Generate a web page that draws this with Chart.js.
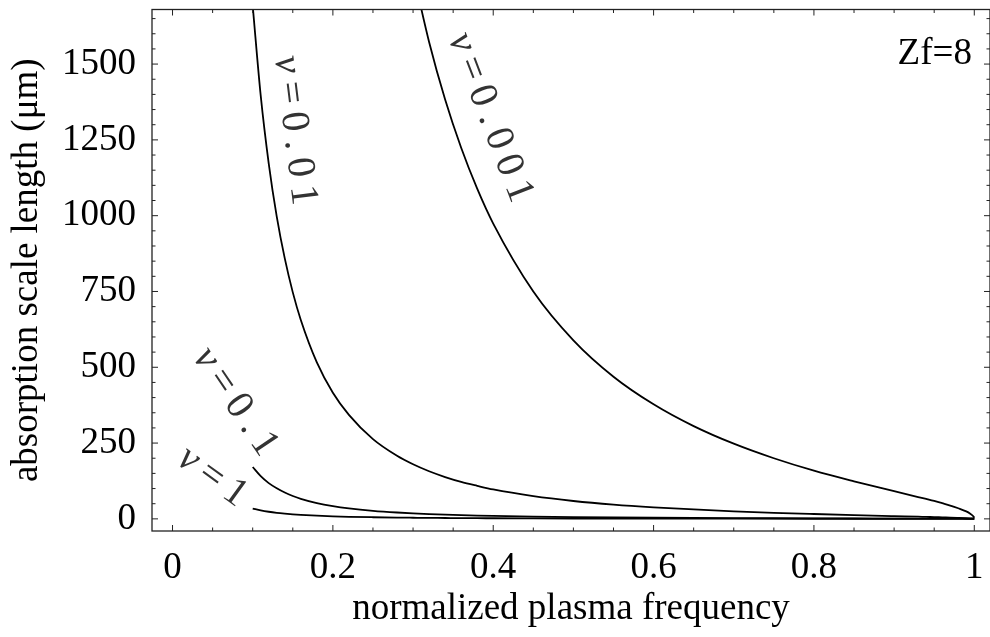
<!DOCTYPE html>
<html>
<head>
<meta charset="utf-8">
<script src="https://cdn.jsdelivr.net/npm/chart.js@4.4.1/dist/chart.umd.min.js"></script>
<style>
	html, body { margin: 0; padding: 0; background: #fff; }
	#wrap { width: 990px; height: 637px; position: relative; }
</style>
</head>
<body>
<div id="wrap"><canvas id="absorption"></canvas></div>
<script>
// normalized plasma frequency (x) and absorption scale length in µm for each collision rate
const freq = [0.1, 0.11, 0.12, 0.13, 0.14, 0.15, 0.16, 0.18, 0.2, 0.22, 0.25, 0.28, 0.3, 0.32, 0.34, 0.36, 0.38, 0.4, 0.45, 0.5,
	0.55, 0.6, 0.65, 0.7, 0.75, 0.8, 0.85, 0.9, 0.93, 0.94, 0.95, 0.96, 0.97, 0.98, 0.99, 0.995, 0.998, 0.999, 1.0];
const nu0001 = [null, null, null, null, null, null, null, null, null, null, null, null,
	1802, 1573, 1383, 1224, 1089, 974, 750, 589, 469, 378, 306, 248, 200, 159, 124, 91.5, 72, 65.6, 59, 51.6, 44, 35, 24.6, 17, 11, 7.8, 4];
const nu001 = [1692, 1396, 1172, 997, 859, 747, 656, 516, 416, 343, 263, 208, 180, 157, 138, 122, 109, 97, 75, 59,
	47, 38, 31, 25, 20, 16, 12.4, 9.1, 7.2, 6.5, 5.9, 5.1, 4.4, 3.5, 2.5, 1.9, 1.5, 1.34, 1.2];
const nu01 = [171, 141, 118, 101, 87, 75.5, 66, 52, 42, 34.6, 26.6, 21, 18.2, 15.9, 14, 12.4, 11, 9.8, 7.6, 6,
	4.75, 3.8, 3.1, 2.5, 2, 1.6, 1.3, 0.96, 0.78, 0.74, 0.7, 0.65, 0.6, 0.55, 0.48, 0.44, 0.42, 0.41, 0.4];
const nu1 = [33.9, 28, 23.5, 20, 17.3, 15, 13.2, 10.4, 8.4, 6.9, 5.4, 4.25, 3.7, 3.2, 2.85, 2.5, 2.3, 2.0, 1.6, 1.3,
	1.05, 0.86, 0.72, 0.61, 0.52, 0.45, 0.39, 0.34, 0.31, 0.305, 0.3, 0.29, 0.28, 0.27, 0.26, 0.26, 0.26, 0.26, 0.26];

const curveNames = ['ν=0.001', 'ν=0.01', 'ν=0.1', 'ν=1'];
const xTicks = [0, 0.2, 0.4, 0.6, 0.8, 1];
const yTicks = [0, 250, 500, 750, 1000, 1250, 1500];

const SERIF = "'Liberation Serif', 'Times New Roman', serif";

// where the curve labels sit (data units) and their tilt
const labelPlace = [
	{ x: 0.3438, y: 1586, angle: 69 },
	{ x: 0.1278, y: 1523, angle: 83 },
	{ x: 0.0246, y: 534, angle: 56 },
	{ x: 0.0033, y: 185, angle: 36 },
];

const toPoints = ys => freq.map((x, i) => ({ x: x, y: ys[i] }));

const curve = ys => ({
	data: toPoints(ys),
	showLine: true,
	borderColor: '#000',
	borderWidth: 1.8,
	pointRadius: 0,
	cubicInterpolationMode: 'monotone',
});

const noPad = s => {
	s.paddingTop = 0; s.paddingBottom = 0;
	s.paddingLeft = 0; s.paddingRight = 0;
};

const framePlugin = {
	id: 'frame',
	afterDraw(chart) {
		const { ctx, chartArea: a, scales: { x, y } } = chart;
		ctx.save();
		ctx.strokeStyle = '#222';
		ctx.lineWidth = 1.3;
		ctx.strokeRect(a.left, a.top, a.right - a.left, a.bottom - a.top);

		ctx.lineWidth = 1;
		ctx.beginPath();
		for (let i = 0; i <= 20; i++) {
			const px = x.getPixelForValue(i * 0.05);
			const len = i % 4 === 0 ? 6 : 3.5;
			ctx.moveTo(px, a.bottom); ctx.lineTo(px, a.bottom - len);
			ctx.moveTo(px, a.top); ctx.lineTo(px, a.top + len);
		}
		for (let i = 0; i <= 33; i++) {
			const py = y.getPixelForValue(i * 50);
			const len = i % 5 === 0 ? 6 : 3.5;
			ctx.moveTo(a.left, py); ctx.lineTo(a.left + len, py);
			ctx.moveTo(a.right, py); ctx.lineTo(a.right - len, py);
		}
		ctx.stroke();

		// curve labels
		ctx.fillStyle = '#333';
		ctx.textBaseline = 'alphabetic';
		curveNames.forEach((name, k) => {
			const p = labelPlace[k];
			ctx.save();
			ctx.translate(x.getPixelForValue(p.x), y.getPixelForValue(p.y));
			ctx.rotate(p.angle * Math.PI / 180);
			let cx = 0;
			for (const ch of name) {
				ctx.font = (ch === 'ν' ? 'italic ' : '') + '40px ' + SERIF;
				ctx.fillText(ch, cx, 0);
				cx += ctx.measureText(ch).width + 8;
			}
			ctx.restore();
		});

		// Zf label
		ctx.fillStyle = '#000';
		ctx.font = '37px ' + SERIF;
		ctx.textAlign = 'right';
		ctx.fillText('Zf=8', x.getPixelForValue(0.997), y.getPixelForValue(1500));
		ctx.restore();
	}
};

const config_absorption = {
	type: 'scatter',
	data: {
		datasets: [curve(nu0001), curve(nu001), curve(nu01), curve(nu1)]
	},
	options: {
		responsive: true,
		maintainAspectRatio: false,
		animation: false,
		devicePixelRatio: 1,
		layout: { padding: { top: 9.5, right: 0, left: 0, bottom: 0 } },
		plugins: {
			legend: { display: false },
			tooltip: { enabled: false },
		},
		scales: {
			x: {
				type: 'linear',
				min: -0.0256,
				max: 1.0196,
				afterBuildTicks: s => { s.ticks = xTicks.map(v => ({ value: v })); },
				afterFit: s => { s.height = 106; noPad(s); },
				grid: { display: false, drawTicks: false },
				border: { display: false },
				ticks: {
					autoSkip: false,
					maxRotation: 0,
					padding: 15,
					color: '#000',
					font: { family: SERIF, size: 37 },
					callback: v => String(v),
				},
				title: {
					display: true,
					text: 'normalized plasma frequency',
					color: '#000',
					font: { family: SERIF, size: 37 },
					padding: { top: 0, bottom: 6 },
				}
			},
			y: {
				min: -40,
				max: 1680,
				afterBuildTicks: s => { s.ticks = yTicks.map(v => ({ value: v })); },
				afterFit: s => { s.width = 152; noPad(s); },
				grid: { display: false, drawTicks: false },
				border: { display: false },
				ticks: {
					autoSkip: false,
					padding: 16,
					color: '#000',
					font: { family: SERIF, size: 37 },
					callback: v => String(v),
				},
				title: {
					display: true,
					text: 'absorption scale length (μm)',
					color: '#000',
					font: { family: SERIF, size: 37 },
					padding: { top: 5, bottom: 0 },
				}
			}
		}
	},
	plugins: [framePlugin]
};

const absorption = new Chart(document.getElementById('absorption'), config_absorption);
</script>
</body>
</html>
